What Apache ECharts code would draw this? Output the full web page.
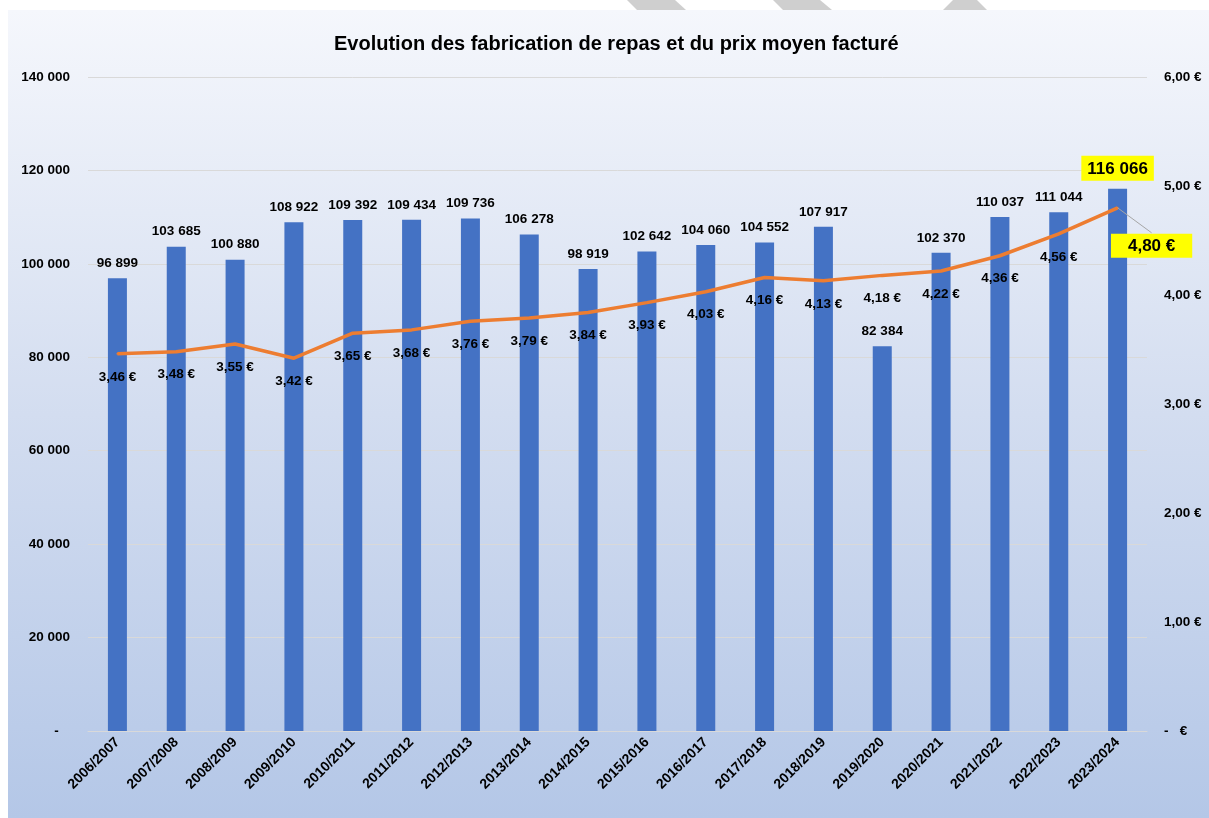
<!DOCTYPE html>
<html>
<head>
<meta charset="utf-8">
<script src="https://cdn.jsdelivr.net/npm/echarts@6/dist/echarts.min.js"></script>
<style>
html,body{margin:0;padding:0;background:#fff;}
#c{width:1209px;height:818px;}
</style>
</head>
<body>
<div id="c"></div>
<script>
const title = 'Evolution des fabrication de repas et du prix moyen facturé';
const categories = ['2006/2007','2007/2008','2008/2009','2009/2010','2010/2011','2011/2012','2012/2013','2013/2014','2014/2015','2015/2016','2016/2017','2017/2018','2018/2019','2019/2020','2020/2021','2021/2022','2022/2023','2023/2024'];
const meals = [96899,103685,100880,108922,109392,109434,109736,106278,98919,102642,104060,104552,107917,82384,102370,110037,111044,116066];
const prices = [3.46,3.48,3.55,3.42,3.65,3.68,3.76,3.79,3.84,3.93,4.03,4.16,4.13,4.18,4.22,4.36,4.56,4.80];
const leftTicks = {min:0, max:140000, interval:20000};
const rightTicks = {min:0, max:6, interval:1};

const FONT = '"Liberation Sans", Arial, sans-serif';
function fmtInt(v){ return String(Math.round(v)).replace(/\B(?=(\d{3})+(?!\d))/g,' '); }
function fmtEur(v){ return v.toFixed(2).replace('.', ',') + ' €'; }

const last = meals.length - 1;
const calloutDx = 34, calloutDy = 10;
const barData = meals.map((v,i)=> i===last ? {value:v, label:{backgroundColor:'#ffff00', fontSize:17, padding:[5,6,3,6]}} : v);
const lineData = prices.map((v,i)=> i===last ? {value:v, label:{backgroundColor:'#ffff00', fontSize:17, padding:[4,17,3,17]}} : v);

const chart = echarts.init(document.getElementById('c'), null, {renderer:'canvas'});
const bgElements = [
  {type:'rect', z:-100, shape:{x:8,y:10,width:1201,height:808},
   style:{fill:new echarts.graphic.LinearGradient(0,0,0,1,[{offset:0,color:'#f5f7fc'},{offset:0.5,color:'#d3ddf0'},{offset:1,color:'#b4c7e7'}])}},
  {type:'polygon', z:-100, shape:{points:[[627,0],[675,0],[686,10],[637,10]]}, style:{fill:'#cfcfcf'}},
  {type:'polygon', z:-100, shape:{points:[[773,0],[820,0],[832,10],[783,10]]}, style:{fill:'#cfcfcf'}},
  {type:'polygon', z:-100, shape:{points:[[953,0],[977,0],[987,10],[943,10]]}, style:{fill:'#cfcfcf'}}
];
chart.setOption({
  backgroundColor:'#ffffff',
  textStyle:{fontFamily:FONT},
  animation:false,
  graphic:{elements:bgElements},
  title:{text:title, left:329, top:29, textStyle:{fontFamily:FONT, fontSize:20, fontWeight:'bold', color:'#000'}},
  grid:{left:88, right:62, top:77, bottom:87, containLabel:false},
  xAxis:{type:'category', data:categories,
    axisLine:{lineStyle:{color:'#d9d9d9', width:1}}, axisTick:{show:false},
    axisLabel:{rotate:45, interval:0, margin:9, color:'#000', fontWeight:'bold', fontSize:14, fontFamily:FONT}},
  yAxis:[
    {type:'value', min:leftTicks.min, max:leftTicks.max, interval:leftTicks.interval,
     axisLine:{show:false}, axisTick:{show:false},
     splitLine:{lineStyle:{color:'#d9d9d9', width:1}},
     axisLabel:{margin:18, color:'#000', fontWeight:'bold', fontSize:13.5, fontFamily:FONT,
       formatter:v=> v===0 ? '-   ' : fmtInt(v)}},
    {type:'value', min:rightTicks.min, max:rightTicks.max, interval:rightTicks.interval,
     alignTicks:false,
     axisLine:{show:false}, axisTick:{show:false}, splitLine:{show:false},
     axisLabel:{margin:17, color:'#000', fontWeight:'bold', fontSize:13.5, fontFamily:FONT,
       formatter:v=> v===0 ? '-   €' : fmtEur(v)}}
  ],
  series:[
    {type:'bar', name:'Repas', data:barData, yAxisIndex:0, barWidth:19,
     itemStyle:{color:'#4472c4'},
     label:{show:true, position:'top', distance:8, color:'#000', fontWeight:'bold', fontSize:13.5, fontFamily:FONT, formatter:p=>fmtInt(p.value)}},
    {type:'line', name:'Prix moyen', data:lineData, yAxisIndex:1, z:5,
     symbol:'circle', symbolSize:2, itemStyle:{color:'#ed7d31'},
     lineStyle:{color:'#ed7d31', width:3.5},
     label:{show:true, position:'bottom', distance:15, color:'#000', fontWeight:'bold', fontSize:13.5, fontFamily:FONT, formatter:p=>fmtEur(p.value)},
     labelLayout:function(p){ if(p.dataIndex===last){ return {dx:calloutDx, dy:calloutDy}; } return {}; }}
  ]
});
// leader line from the last price point to its moved callout, positioned via the chart's own scales
const pt = chart.convertToPixel({xAxisIndex:0, yAxisIndex:1}, [categories[last], prices[last]]);
if (pt) {
  chart.setOption({graphic:{elements:bgElements.concat([
    {type:'line', z:10, shape:{x1:pt[0], y1:pt[1], x2:pt[0]+calloutDx, y2:pt[1]+calloutDy+15},
     style:{stroke:'#a6a6a6', lineWidth:1}}
  ])}});
}
</script>
</body>
</html>
